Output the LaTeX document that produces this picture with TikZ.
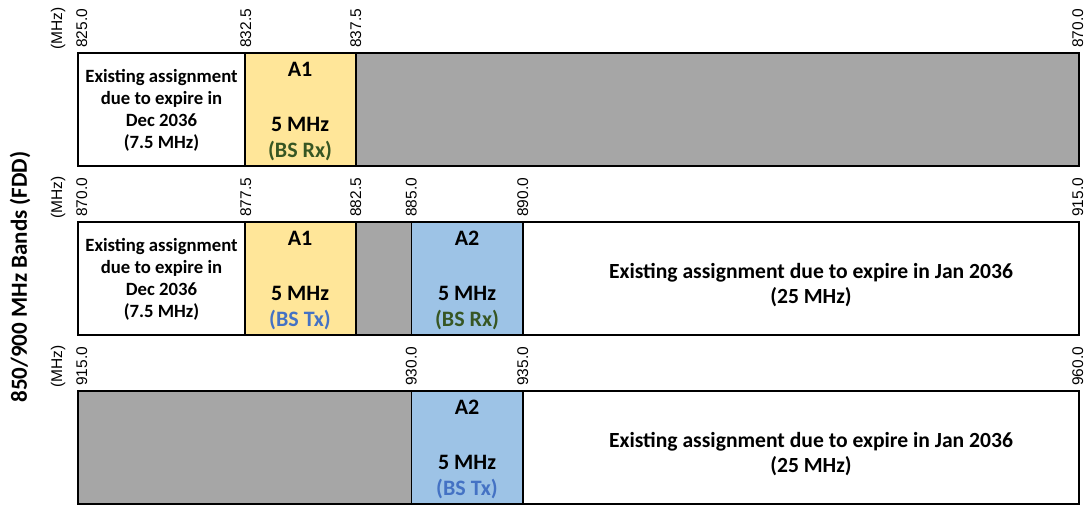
\documentclass[tikz,border=0pt]{standalone}
\usepackage{fontspec}
\setmainfont{Carlito}
\newfontfamily\ticksfont{Liberation Sans}
\definecolor{bandyellow}{HTML}{FFE699}
\definecolor{bandblue}{HTML}{9DC3E6}
\definecolor{bandgray}{HTML}{A6A6A6}
\definecolor{rxgreen}{HTML}{375623}
\definecolor{txblue}{HTML}{4472C4}

\tikzset{
  cell/.style={draw=black, line width=1.5pt},
  freqlabel/.style={rotate=90, anchor=base west, inner sep=0pt,
    font=\ticksfont\fontsize{15.5}{15.5}\selectfont},
  smalltext/.style={anchor=base, inner sep=0pt, font=\bfseries\fontsize{18.7}{20}\selectfont},
  bigtext/.style={anchor=base, inner sep=0pt, font=\bfseries\fontsize{22}{24}\selectfont},
  widetext/.style={anchor=base, inner sep=0pt, font=\bfseries\fontsize{21.6}{24}\selectfont},
}

\begin{document}
\begin{tikzpicture}[x=1pt, y=-1pt]
\useasboundingbox (0,0) rectangle (1088,507);

% band edges (x positions, 22.24 px per MHz)
\def\xa{78}\def\xb{245}\def\xc{356}\def\xd{411.7}\def\xe{523}\def\xf{1079}

% ---------- row 1: 825.0 - 870.0 MHz ----------
\def\T{53}
\fill[white] (\xa,\T) rectangle (\xb,\T+113);
\fill[bandyellow] (\xb,\T) rectangle (\xc,\T+113);
\fill[bandgray] (\xc,\T) rectangle (\xf,\T+113);
\draw[cell] (\xa,\T) rectangle (\xf,\T+113);
\draw[cell] (\xb,\T) -- (\xb,\T+113) (\xc,\T) -- (\xc,\T+113);

\node[freqlabel] (r1mhz) at (62,\T-3) {(MHz)};
\node[freqlabel] (r1a) at (\xa+9,\T-5) {825.0};
\node[freqlabel] (r1b) at (\xb+6,\T-5) {832.5};
\node[freqlabel] (r1c) at (\xc+5,\T-5) {837.5};
\node[freqlabel] (r1f) at (\xf+4,\T-5) {870.0};

\node[smalltext] (r1e1) at (161.5,\T+29) {Existing assignment};
\node[smalltext] (r1e2) at (161.5,\T+51) {due to expire in};
\node[smalltext] (r1e3) at (161.5,\T+73) {Dec 2036};
\node[smalltext] (r1e4) at (161.5,\T+95) {(7.5 MHz)};
\node[bigtext] (r1y1) at (300,\T+23) {A1};
\node[bigtext] (r1y2) at (300,\T+78) {5 MHz};
\node[bigtext, text=rxgreen] (r1y3) at (300,\T+104) {(BS Rx)};

% ---------- row 2: 870.0 - 915.0 MHz ----------
\def\T{222}
\fill[white] (\xa,\T) rectangle (\xb,\T+113);
\fill[bandyellow] (\xb,\T) rectangle (\xc,\T+113);
\fill[bandgray] (\xc,\T) rectangle (\xd,\T+113);
\fill[bandblue] (\xd,\T) rectangle (\xe,\T+113);
\fill[white] (\xe,\T) rectangle (\xf,\T+113);
\draw[cell] (\xa,\T) rectangle (\xf,\T+113);
\draw[cell] (\xb,\T) -- (\xb,\T+113) (\xc,\T) -- (\xc,\T+113)
            (\xd,\T) -- (\xd,\T+113) (\xe,\T) -- (\xe,\T+113);

\node[freqlabel] (r2mhz) at (62,\T-3) {(MHz)};
\node[freqlabel] (r2a) at (\xa+9,\T-5) {870.0};
\node[freqlabel] (r2b) at (\xb+6,\T-5) {877.5};
\node[freqlabel] (r2c) at (\xc+5,\T-5) {882.5};
\node[freqlabel] (r2d) at (\xd+5,\T-5) {885.0};
\node[freqlabel] (r2e) at (\xe+5,\T-5) {890.0};
\node[freqlabel] (r2f) at (\xf+4,\T-5) {915.0};

\node[smalltext] (r2e1) at (161.5,\T+29) {Existing assignment};
\node[smalltext] (r2e2) at (161.5,\T+51) {due to expire in};
\node[smalltext] (r2e3) at (161.5,\T+73) {Dec 2036};
\node[smalltext] (r2e4) at (161.5,\T+95) {(7.5 MHz)};
\node[bigtext] (r2y1) at (300,\T+23) {A1};
\node[bigtext] (r2y2) at (300,\T+78) {5 MHz};
\node[bigtext, text=txblue] (r2y3) at (300,\T+104) {(BS Tx)};
\node[bigtext] (r2b1) at (467,\T+23) {A2};
\node[bigtext] (r2b2) at (467,\T+78) {5 MHz};
\node[bigtext, text=rxgreen] (r2b3) at (467,\T+104) {(BS Rx)};
\node[widetext] (r2w1) at (811,\T+56) {Existing assignment due to expire in Jan 2036};
\node[widetext] (r2w2) at (811,\T+81) {(25 MHz)};

% ---------- row 3: 915.0 - 960.0 MHz ----------
\def\T{391}
\fill[bandgray] (\xa,\T) rectangle (\xd,\T+113);
\fill[bandblue] (\xd,\T) rectangle (\xe,\T+113);
\fill[white] (\xe,\T) rectangle (\xf,\T+113);
\draw[cell] (\xa,\T) rectangle (\xf,\T+113);
\draw[cell] (\xd,\T) -- (\xd,\T+113) (\xe,\T) -- (\xe,\T+113);

\node[freqlabel] (r3mhz) at (62,\T-3) {(MHz)};
\node[freqlabel] (r3a) at (\xa+9,\T-5) {915.0};
\node[freqlabel] (r3d) at (\xd+5,\T-5) {930.0};
\node[freqlabel] (r3e) at (\xe+5,\T-5) {935.0};
\node[freqlabel] (r3f) at (\xf+4,\T-5) {960.0};

\node[bigtext] (r3b1) at (467,\T+23) {A2};
\node[bigtext] (r3b2) at (467,\T+78) {5 MHz};
\node[bigtext, text=txblue] (r3b3) at (467,\T+104) {(BS Tx)};
\node[widetext] (r3w1) at (811,\T+56) {Existing assignment due to expire in Jan 2036};
\node[widetext] (r3w2) at (811,\T+81) {(25 MHz)};

% side title
\node[rotate=90, inner sep=0pt, font=\bfseries\fontsize{23}{23}\selectfont] (title) at (20,277) {850/900 MHz Bands (FDD)};
\end{tikzpicture}
\end{document}
